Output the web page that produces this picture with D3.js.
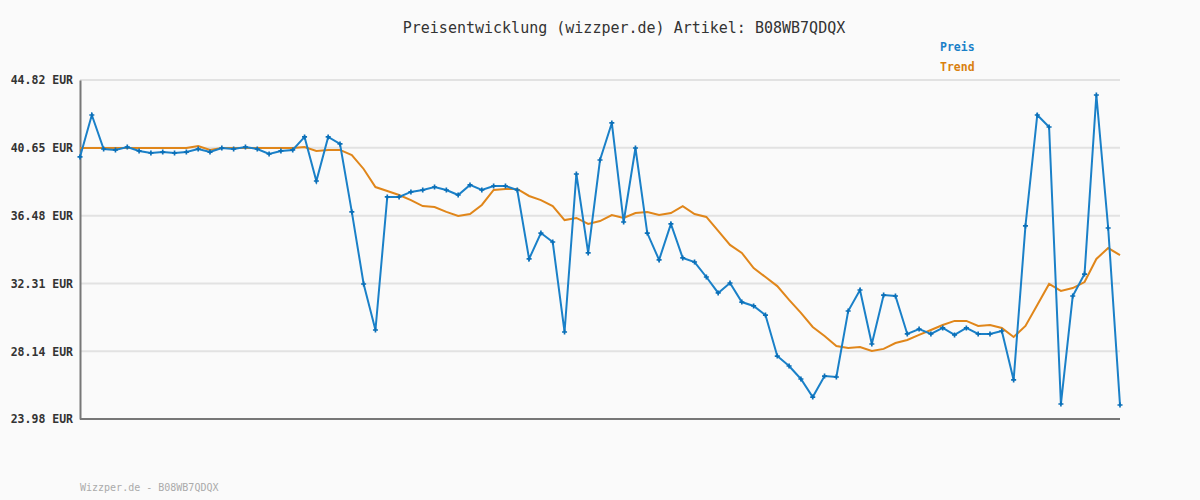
<!DOCTYPE html>
<html><head><meta charset="utf-8">
<script src="https://cdn.jsdelivr.net/npm/d3@7"></script>
<style>body{margin:0;background:#fafafa}</style>
</head><body><div id="chart"></div>
<script>
// prices
const preis = [40.09,42.67,40.58,40.52,40.70,40.46,40.33,40.39,40.33,40.39,
  40.58,40.39,40.64,40.58,40.70,40.58,40.27,40.46,40.52,41.32,
  38.61,41.32,40.89,36.71,32.28,29.45,37.63,37.63,37.94,38.06,
  38.24,38.06,37.75,38.37,38.06,38.30,38.30,38.06,33.82,35.41,
  34.86,29.33,39.04,34.19,39.90,42.18,36.09,40.64,35.41,33.76,
  35.97,33.88,33.63,32.71,31.73,32.34,31.17,30.93,30.37,27.85,
  27.24,26.44,25.33,26.62,26.56,30.62,31.91,28.59,31.60,31.54,
  29.21,29.51,29.21,29.58,29.15,29.58,29.21,29.21,29.39,26.38,
  35.85,42.67,41.93,24.90,31.54,32.89,43.90,35.72,24.84];
const trend = [40.64,40.64,40.64,40.64,40.64,40.64,40.64,40.64,40.64,40.64,
  40.76,40.52,40.64,40.64,40.64,40.64,40.64,40.64,40.64,40.70,
  40.46,40.52,40.52,40.21,39.35,38.24,38.00,37.75,37.44,37.07,
  37.01,36.71,36.46,36.58,37.14,38.06,38.12,38.12,37.69,37.44,
  37.07,36.21,36.34,35.97,36.15,36.52,36.34,36.64,36.71,36.52,
  36.64,37.07,36.58,36.40,35.54,34.68,34.19,33.26,32.71,32.15,
  31.30,30.50,29.64,29.08,28.47,28.35,28.41,28.16,28.29,28.65,
  28.84,29.15,29.45,29.76,30.01,30.01,29.70,29.76,29.58,29.02,
  29.70,30.99,32.28,31.85,32.03,32.40,33.82,34.49,34.06];
const yTicks = [23.98,28.14,32.31,36.48,40.65,44.82];

const W = 1200, H = 500;
const m = { left: 80, right: 1120, top: 80, bottom: 419 };
const font = "'DejaVu Sans Mono', monospace";
const svg = d3.select("#chart").append("svg").attr("width", W).attr("height", H)
  .style("background", "#fafafa");

const x = d3.scaleLinear().domain([0, preis.length - 1]).range([m.left, m.right]);
const y = d3.scaleLinear().domain([23.98, 44.82]).range([m.bottom, m.top]);

svg.append("g").selectAll("line").data(yTicks.slice(1)).join("line")
  .attr("x1", m.left).attr("x2", m.right).attr("y1", d => y(d)).attr("y2", d => y(d))
  .attr("stroke", "#e2e2e2").attr("stroke-width", 2);

const yAxis = svg.append("g").attr("transform", `translate(${m.left},0)`)
  .call(d3.axisLeft(y).tickValues(yTicks).tickSize(0).tickPadding(7)
    .tickFormat(d => d.toFixed(2) + " EUR"));
yAxis.select(".domain").attr("stroke", "#777").attr("stroke-width", 2);
yAxis.selectAll(".tick text").attr("font-family", font).attr("font-size", 11.5)
  .attr("font-weight", "bold").attr("fill", "#333");

svg.append("line").attr("x1", m.left).attr("x2", m.right).attr("y1", m.bottom).attr("y2", m.bottom)
  .attr("stroke", "#777").attr("stroke-width", 2);

const line = d3.line().x((d, i) => x(i)).y(d => y(d));
svg.append("path").datum(trend).attr("d", line).attr("fill", "none")
  .attr("stroke", "#e0861a").attr("stroke-width", 2);
svg.append("path").datum(preis).attr("d", line).attr("fill", "none")
  .attr("stroke", "#1a80c8").attr("stroke-width", 2);
svg.append("g").selectAll("path").data(preis).join("path")
  .attr("d", d3.symbol(d3.symbolCross, 14))
  .attr("transform", (d, i) => `translate(${x(i)},${y(d)})`)
  .attr("fill", "#0a6fb8");

svg.append("text").attr("x", 624).attr("y", 33).attr("text-anchor", "middle")
  .attr("font-family", font).attr("font-size", 15).attr("fill", "#333")
  .text("Preisentwicklung (wizzper.de) Artikel: B08WB7QDQX");
svg.append("text").attr("x", 940).attr("y", 51).attr("font-family", font)
  .attr("font-size", 11.5).attr("font-weight", "bold").attr("fill", "#1a80c8").text("Preis");
svg.append("text").attr("x", 940).attr("y", 71).attr("font-family", font)
  .attr("font-size", 11.5).attr("font-weight", "bold").attr("fill", "#d9800f").text("Trend");
svg.append("text").attr("x", 80).attr("y", 491).attr("font-family", font)
  .attr("font-size", 10).attr("fill", "#aaa").text("Wizzper.de - B08WB7QDQX");
</script></body></html>
